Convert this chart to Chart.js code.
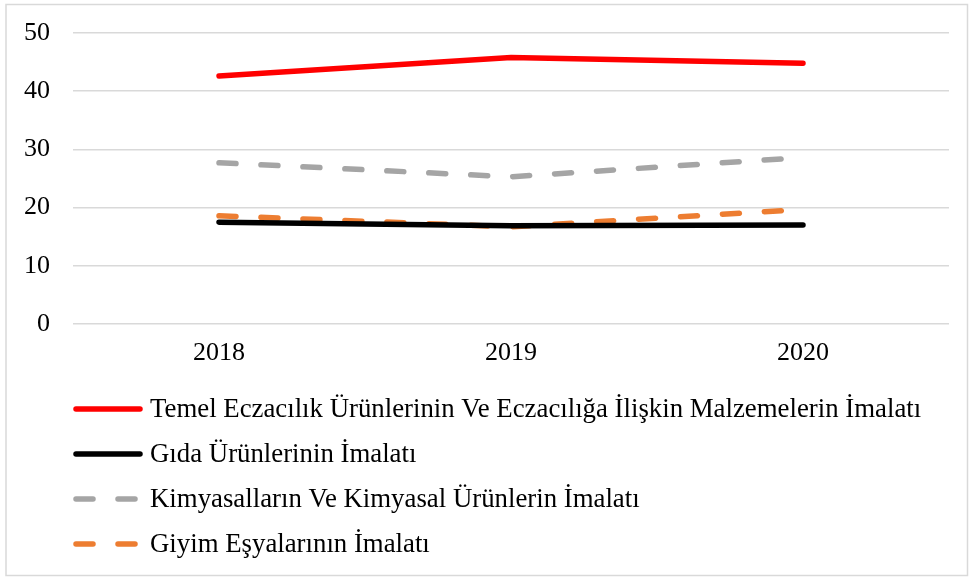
<!DOCTYPE html>
<html>
<head>
<meta charset="utf-8">
<script src="https://cdn.jsdelivr.net/npm/chart.js@4.4.1/dist/chart.umd.min.js"></script>
<style>
  html, body { margin: 0; padding: 0; background: #fff; }
  #wrap { position: relative; width: 970px; height: 579px; }
</style>
</head>
<body>
<div id="wrap"><canvas id="lineChart" width="970" height="579"></canvas></div>
<script>
const years = ['2018', '2019', '2020'];
const eczacilik = [42.6, 45.8, 44.8];
const gida = [17.5, 16.9, 17.0];
const kimyasal = [27.7, 25.3, 28.6];
const giyim = [18.6, 16.7, 19.7];
const seriesNames = [
    'Temel Eczacılık Ürünlerinin Ve Eczacılığa İlişkin Malzemelerin İmalatı',
    'Gıda Ürünlerinin İmalatı',
    'Kimyasalların Ve Kimyasal Ürünlerin İmalatı',
    'Giyim Eşyalarının İmalatı'
];
const yTicks = [0, 10, 20, 30, 40, 50];

const fontFamily = "'Liberation Serif', 'Times New Roman', serif";

// frame + vertical legend drawn under the plot
const frameLegend = {
    id: 'frameLegend',
    afterDraw(chart) {
        const ctx = chart.ctx;
        ctx.save();
        ctx.strokeStyle = '#d9d9d9';
        ctx.lineWidth = 1.5;
        ctx.strokeRect(6, 4.5, 961.5, 571);

        chart.data.datasets.forEach((ds, i) => {
            const y = 409 + i * 45;
            ctx.beginPath();
            ctx.strokeStyle = ds.borderColor;
            ctx.lineWidth = ds.borderWidth;
            ctx.lineCap = 'round';
            ctx.setLineDash(ds.borderDash || []);
            ctx.moveTo(76, y);
            ctx.lineTo(140, y);
            ctx.stroke();
            ctx.setLineDash([]);
            ctx.fillStyle = '#000';
            ctx.font = '26.8px ' + fontFamily;
            ctx.textBaseline = 'middle';
            ctx.textAlign = 'left';
            ctx.fillText(ds.label, 150, y + 1);
        });
        ctx.restore();
    }
};

new Chart(document.getElementById('lineChart'), {
    type: 'line',
    data: {
        labels: years,
        datasets: [{
            label: seriesNames[0],
            data: eczacilik,
            borderColor: '#ff0000',
            borderWidth: 5.5,
            borderCapStyle: 'round',
            pointRadius: 0
        }, {
            label: seriesNames[1],
            data: gida,
            borderColor: '#000000',
            borderWidth: 5.5,
            borderCapStyle: 'round',
            pointRadius: 0
        }, {
            label: seriesNames[2],
            data: kimyasal,
            borderColor: '#a5a5a5',
            borderWidth: 5.5,
            borderDash: [17, 25],
            borderCapStyle: 'round',
            pointRadius: 0
        }, {
            label: seriesNames[3],
            data: giyim,
            borderColor: '#ed7d31',
            borderWidth: 5.5,
            borderDash: [17, 25],
            borderCapStyle: 'round',
            pointRadius: 0
        }]
    },
    options: {
        responsive: false,
        animation: false,
        layout: {
            padding: { left: 0, top: 33, right: 21, bottom: 0 }
        },
        elements: {
            line: { tension: 0 }
        },
        scales: {
            x: {
                offset: true,
                grid: { display: false, drawTicks: false, offset: true },
                border: { display: false },
                ticks: {
                    padding: 14,
                    color: '#000',
                    font: { family: fontFamily, size: 26 }
                },
                afterFit(scale) { scale.height = 255; }
            },
            y: {
                min: 0,
                max: 50,
                afterBuildTicks(scale) {
                    scale.ticks = yTicks.map(v => ({ value: v }));
                },
                grid: { color: '#d9d9d9', lineWidth: 1.5, drawTicks: false },
                border: { display: false },
                ticks: {
                    padding: 23,
                    color: '#000',
                    font: { family: fontFamily, size: 26 }
                },
                afterFit(scale) {
                    scale.width = 73;
                    scale.paddingTop = 0;
                    scale.paddingBottom = 0;
                }
            }
        },
        plugins: {
            legend: { display: false },
            tooltip: { enabled: false }
        }
    },
    plugins: [frameLegend]
});
</script>
</body>
</html>
